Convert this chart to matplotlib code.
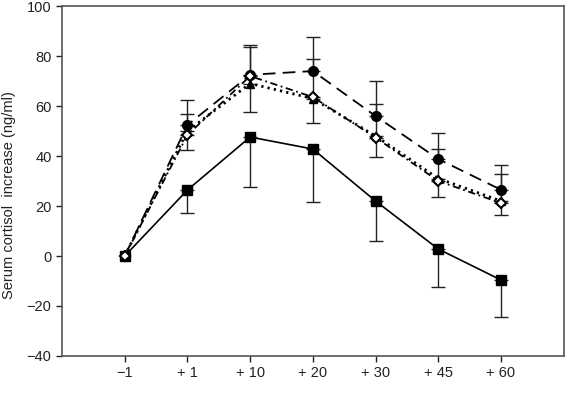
import matplotlib
matplotlib.use("Agg")
import matplotlib.pyplot as plt
import numpy as np

plt.rcParams['font.family'] = ['Liberation Sans', 'DejaVu Sans']

categories = ["\u22121", "+ 1", "+ 10", "+ 20", "+ 30", "+ 45", "+ 60"]
square_vals = [0, 26.4, 47.6, 42.8, 22.0, 2.8, -9.6]
square_err_lo = [0, 9, 20, 21, 16, 15, 15]
circle_vals = [0, 52.4, 72.5, 74.0, 56.0, 38.8, 26.5]
circle_err_hi = [0, 10, 12, 13.6, 14, 10.4, 9.9]
triangle_vals = [0, 50.0, 69.0, 63.0, 48.0, 31.0, 22.0]
triangle_err_hi = [0, 7, 14.6, 16, 12.8, 12, 11]
diamond_vals = [0, 48.4, 72.0, 63.6, 47.4, 30.0, 21.2]
diamond_err_lo = [0, 6, 14.4, 10.4, 7.8, 6.4, 4.8]

fig = plt.figure(figsize=(5.65, 3.99), dpi=100)
ax = fig.add_axes([0.1097, 0.1078, 0.888, 0.877])
x = np.arange(len(categories))
ec = '#222222'

def eb(vals, lo, hi):
    ax.errorbar(x[1:], np.array(vals)[1:], yerr=[np.array(lo)[1:], np.array(hi)[1:]],
                fmt='none', ecolor=ec, elinewidth=1.0, capsize=5, capthick=1.0, zorder=2)

z = [0]*7
eb(square_vals, square_err_lo, z)
eb(circle_vals, z, circle_err_hi)
eb(triangle_vals, z, triangle_err_hi)
eb(diamond_vals, diamond_err_lo, z)

ax.plot(x, square_vals, color='black', lw=1.2, marker='s', ms=7, zorder=3)
ax.plot(x, circle_vals, color='black', lw=1.3, ls=(0, (7, 4)), marker='o', ms=7, zorder=3)
ax.plot(x, triangle_vals, color='black', lw=2.0, ls=(0, (0.8, 1.5)), marker='^', ms=6, zorder=3)
ax.plot(x, diamond_vals, color='black', lw=1.3, ls=(0, (4, 2, 1, 2)), marker='D', ms=5,
        mfc='white', mec='black', mew=1.5, zorder=4)

ax.set_xlim(-1, 7)
ax.set_ylim(-40, 100)
ax.set_xticks(x)
ax.set_xticklabels(categories)
ax.set_yticks(np.arange(-40, 101, 20))
ax.set_yticklabels([("\u2212%d" % -v) if v < 0 else str(v) for v in range(-40, 101, 20)])
ax.tick_params(direction='out', length=4, width=1, labelsize=10.5, colors='#222222', top=False, right=False)
for s in ax.spines.values():
    s.set_color('#555555')
    s.set_linewidth(1.2)
ax.set_ylabel("Serum cortisol  increase (ng/ml)", fontsize=10.5, color='#222222')
ax.yaxis.set_label_coords(-0.091, 0.46)

fig.savefig("out.png", dpi=100)
